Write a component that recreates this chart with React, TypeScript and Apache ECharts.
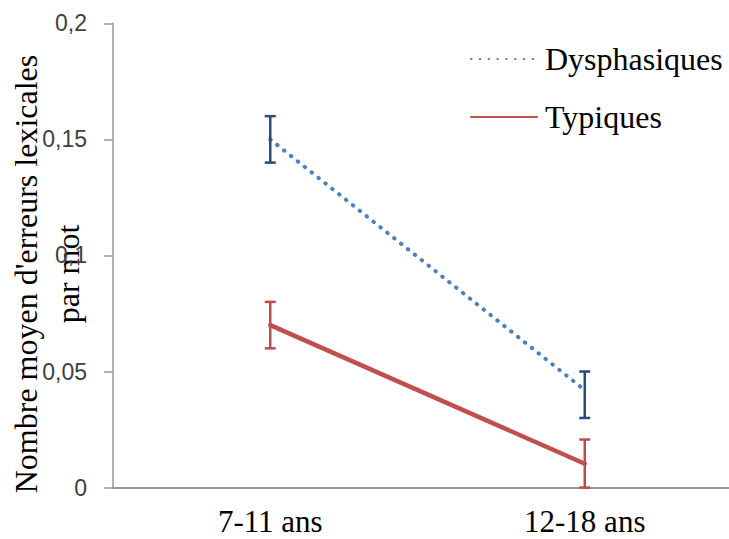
import React, { useEffect, useRef } from "react";
import * as echarts from "echarts";

const categories = ["7-11 ans", "12-18 ans"];
const dysphasiques = [0.15, 0.042];
const dysLow = [0.14, 0.03];
const dysHigh = [0.16, 0.05];
const typiques = [0.07, 0.0103];
const typLow = [0.06, 0.0];
const typHigh = [0.08, 0.0207];
const yTicks = { min: 0, max: 0.2, interval: 0.05 };

const SERIF = "'Liberation Serif', 'Times New Roman', serif";
const SANS = "'Liberation Sans', Arial, sans-serif";
const BLUE = "#4f81bd";
const BLUE_DARK = "#2a4a78";
const RED = "#c0504d";
const RED_ERR = "#b5504e";

function errorSeries(name: string, low: number[], high: number[], color: string) {
  return {
    type: "custom",
    name: name + "-err",
    z: 5,
    data: categories.map((_, i) => [i, low[i], high[i]]),
    renderItem: (params: any, api: any) => {
      const lo = api.coord([api.value(0), api.value(1)]);
      const hi = api.coord([api.value(0), api.value(2)]);
      const w = 5.5;
      const style = { stroke: color, lineWidth: 2.5 };
      return {
        type: "group",
        children: [
          { type: "line", shape: { x1: lo[0], y1: lo[1], x2: hi[0], y2: hi[1] }, style },
          { type: "line", shape: { x1: lo[0] - w, y1: lo[1], x2: lo[0] + w, y2: lo[1] }, style },
          { type: "line", shape: { x1: hi[0] - w, y1: hi[1], x2: hi[0] + w, y2: hi[1] }, style },
        ],
      };
    },
  };
}

export default function App() {
  const ref = useRef<HTMLDivElement>(null);
  useEffect(() => {
    if (!ref.current) return;
    const chart = echarts.init(ref.current, null, { renderer: "svg" });
    chart.setOption({
      animation: false,
      backgroundColor: "#ffffff",
      grid: {
        left: 113,
        top: 23.3,
        height: 464.3,
        width: 629,
        containLabel: false,
        outerBoundsMode: "none",
      },
      legend: {
        orient: "vertical",
        left: 465,
        top: 38,
        itemWidth: 66,
        itemHeight: 12,
        itemGap: 26,
        data: ["Dysphasiques", "Typiques"],
        itemStyle: { opacity: 0, borderWidth: 0 },
        textStyle: {
          fontFamily: SERIF,
          fontSize: 32,
          color: "#000",
          lineHeight: 32,
          padding: [0, 0, 0, 3],
        },
      },
      xAxis: {
        type: "category",
        data: categories,
        boundaryGap: true,
        axisLine: { lineStyle: { color: "#999999", width: 2 } },
        axisTick: { show: false },
        axisLabel: {
          fontFamily: SERIF,
          fontSize: 31,
          lineHeight: 31,
          color: "#000",
          margin: 18,
        },
      },
      yAxis: {
        type: "value",
        min: yTicks.min,
        max: yTicks.max,
        interval: yTicks.interval,
        splitLine: { show: false },
        axisLine: { show: true, lineStyle: { color: "#999999", width: 1.5 } },
        axisTick: { show: true, length: 9, lineStyle: { color: "#999999", width: 1.5 } },
        axisLabel: {
          fontFamily: SANS,
          fontSize: 23,
          color: "#404040",
          margin: 26,
          formatter: (v: number) => String(Math.round(v * 100) / 100).replace(".", ","),
        },
      },
      graphic: [
        {
          type: "text",
          x: 47,
          y: 274,
          rotation: Math.PI / 2,
          style: {
            text: "Nombre moyen d'erreurs lexicales\npar mot",
            fontFamily: SERIF,
            fontSize: 32,
            lineHeight: 42,
            fill: "#000",
            align: "center",
            verticalAlign: "middle",
          },
        },
      ],
      series: [
        {
          name: "Dysphasiques",
          type: "line",
          data: dysphasiques,
          symbol: "none",
          z: 3,
          lineStyle: { color: BLUE, width: 4, type: [0.5, 8.3], cap: "round" },
          itemStyle: { color: BLUE },
        },
        {
          name: "Typiques",
          type: "line",
          data: typiques,
          symbol: "none",
          z: 3,
          lineStyle: { color: RED, width: 4.5, type: "solid", cap: "round" },
          itemStyle: { color: RED },
        },
        errorSeries("Dysphasiques", dysLow, dysHigh, BLUE_DARK),
        errorSeries("Typiques", typLow, typHigh, RED_ERR),
      ],
    });
    return () => chart.dispose();
  }, []);
  return <div ref={ref} style={{ width: 729, height: 539, position: "absolute", left: 0, top: 0 }} />;
}
